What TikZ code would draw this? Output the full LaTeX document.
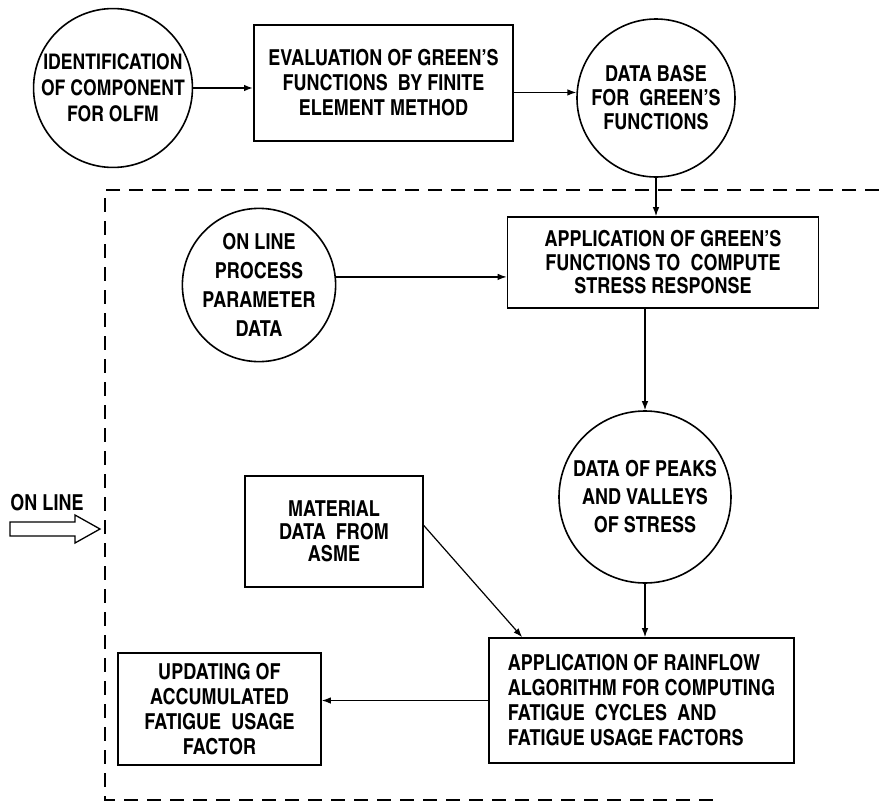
\documentclass[tikz,border=0pt]{standalone}
\usepackage{fontspec}
\setmainfont{texgyreheroscn}[Extension=.otf, UprightFont=*-bold, BoldFont=*-bold]
\usepackage{tikz}
\usetikzlibrary{arrows.meta,positioning}

\begin{document}
\begin{tikzpicture}[
  x=1pt, y=-1pt,
  font=\fontsize{22}{25}\selectfont, >={Latex[length=9pt,width=6.5pt]},
  b/.style={draw=black, line width=1.6pt, align=center, inner sep=2pt},
  box/.style={b, rectangle},
  disc/.style={b, circle, inner sep=0pt},
  a/.style={->, line width=1.2pt, draw=black},
  frame/.style={line width=1.5pt, dash pattern=on 14pt off 9pt},
]
\useasboundingbox (0,0) rectangle (879,806);
% Top row: off line preparation
\node[disc, minimum size=158pt, font=\fontsize{21.5}{26}\selectfont] (ident) at (113,88)
  {IDENTIFICATION\\OF COMPONENT\\FOR OLFM};
\node[box, minimum width=259pt, minimum height=116pt] (evalfe) at (383.5,83)
  {EVALUATION OF GREEN'S\\FUNCTIONS\ \ BY FINITE\\ELEMENT METHOD};
\node[disc, minimum size=158pt, font=\fontsize{22}{24}\selectfont] (dbase) at (656,98)
  {DATA BASE\\FOR\ \ GREEN'S\\FUNCTIONS};
\draw[a, line width=2.2pt] (ident.east) -- (ident.east -| evalfe.west);
\draw[a] (dbase.176 -| evalfe.east) -- (dbase.176);

% On line part inside the dashed frame
\draw[frame] (879,190) -- (105,190) -- (105,800) -- (717,800);
\node (onlbl) at (47,503) {ON LINE};
\draw[line width=1.3pt] (10,522) -- (75,522) -- (75,515) -- (100,529)
  -- (75,543) -- (75,536) -- (10,536) -- cycle;

\node[disc, minimum size=152pt, font=\fontsize{22}{29}\selectfont] (online) at (259,285)
  {ON LINE\\PROCESS\\PARAMETER\\DATA};
\node[box, minimum width=311pt, minimum height=91pt, font=\fontsize{22}{23.5}\selectfont] (appgreen) at (663,262.5)
  {APPLICATION OF GREEN'S\\FUNCTIONS TO\ \ COMPUTE\\STRESS RESPONSE};
\node[disc, minimum size=172pt, font=\fontsize{22}{28}\selectfont] (peaks) at (645,497)
  {DATA OF PEAKS\\AND VALLEYS\\OF STRESS};
\node[box, minimum width=178pt, minimum height=111pt, font=\fontsize{22}{22.5}\selectfont] (material) at (334,531.5)
  {MATERIAL\\DATA\ \ FROM\\ASME};
\node[box, minimum width=305pt, minimum height=125pt, align=left] (rainflow) at (641.5,700.5)
  {APPLICATION OF RAINFLOW\\ALGORITHM FOR COMPUTING\\FATIGUE\ \ CYCLES\ \ AND\\FATIGUE USAGE FACTORS};
\node[box, minimum width=203pt, minimum height=112pt] (update) at (219.5,709)
  {UPDATING OF\\ACCUMULATED\\FATIGUE\ \ USAGE\\FACTOR};

\draw[a] (dbase.south) -- (dbase.south |- appgreen.north);
\draw[a] (online.6) -- (online.6 -| appgreen.west);
\draw[a] (peaks.north |- appgreen.south) -- (peaks.north);
\draw[a] (peaks.south) -- (peaks.south |- rainflow.north);
\draw[a] ([yshift=6pt]material.east) -- ([xshift=34pt]rainflow.north west);
\draw[a] (rainflow.west) -- (rainflow.west -| update.east);
\end{tikzpicture}
\end{document}
